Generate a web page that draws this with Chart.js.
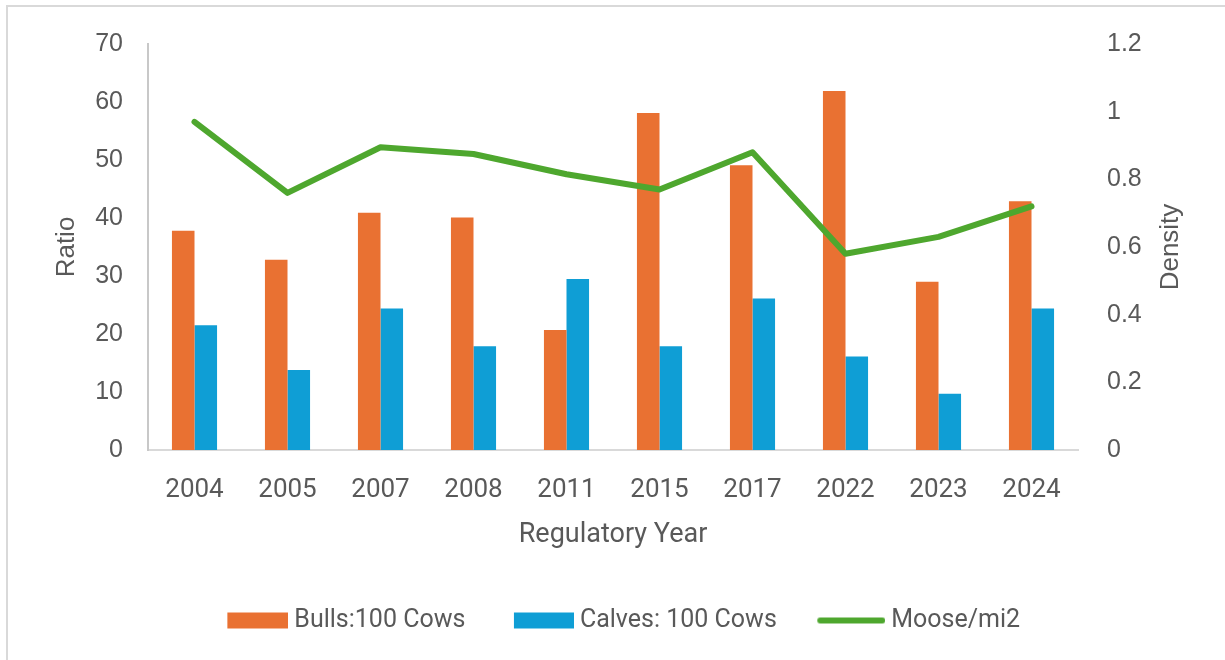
<!DOCTYPE html>
<html>
<head>
<meta charset="utf-8">
<title>Moose Composition and Density by Regulatory Year</title>
<script src="https://cdn.jsdelivr.net/npm/chart.js@4.4.1/dist/chart.umd.min.js"></script>
<style>
  html, body { margin: 0; padding: 0; background: #ffffff; }
  #wrap { position: relative; width: 1225px; height: 660px; overflow: hidden; }
  #frame { position: absolute; left: 6px; top: 5px; width: 1260px; height: 700px;
           border-left: 2px solid #d9d9d9; border-top: 2px solid #d9d9d9; }
  #c { position: absolute; left: 0; top: 0; }
</style>
</head>
<body>
<div id="wrap">
  <div id="frame"></div>
  <canvas id="c" width="1225" height="660"></canvas>
</div>
<script>
// Survey years and results
const years = ['2004', '2005', '2007', '2008', '2011', '2015', '2017', '2022', '2023', '2024'];
const bulls = [37.8, 32.8, 40.9, 40.1, 20.7, 58.1, 49.1, 61.9, 29.0, 42.9];
const calves = [21.5, 13.8, 24.4, 17.9, 29.5, 17.9, 26.1, 16.1, 9.7, 24.4];
const density = [0.97, 0.76, 0.895, 0.875, 0.815, 0.77, 0.88, 0.58, 0.63, 0.72];

// Axis tick labels
const densityTicks = ['0', '0.2', '0.4', '0.6', '0.8', '1', '1.2'];

const seriesNames = ['Bulls:100 Cows', 'Calves: 100 Cows', 'Moose/mi2'];
const ORANGE = '#E97132';
const BLUE = '#0F9ED5';
const GREEN = '#4EA72E';
const TEXT = '#595959';

// Legend swatches: all the same canvas width so the text starts at the same offset
const SW_W = 70, SW_H = 18;
function swatch(kind, color, w) {
  const cv = document.createElement('canvas');
  cv.width = SW_W; cv.height = SW_H;
  const g = cv.getContext('2d');
  if (kind === 'rect') {
    g.fillStyle = color;
    g.fillRect(SW_W - w, 1, w, 16);
  } else {
    g.strokeStyle = color;
    g.lineWidth = 6;
    g.lineCap = 'round';
    g.beginPath();
    g.moveTo(SW_W - w + 3, SW_H / 2);
    g.lineTo(SW_W - 3, SW_H / 2);
    g.stroke();
  }
  return cv;
}
const swatches = [swatch('rect', ORANGE, 61), swatch('rect', BLUE, 60), swatch('line', GREEN, 68)];
const swatchColors = [ORANGE, BLUE, GREEN];

const LEFT_PAD = 20;

// Axis titles drawn with the plugin so the right-hand title reads bottom-to-top
const axisTitles = {
  id: 'axisTitles',
  afterDraw(chart) {
    const { ctx, chartArea, scales } = chart;
    const midY = (chartArea.top + chartArea.bottom) / 2;
    ctx.save();
    ctx.fillStyle = TEXT;
    ctx.textAlign = 'center';
    ctx.textBaseline = 'middle';
    ctx.font = '26px "Liberation Sans", Arial, sans-serif';

    ctx.save();
    ctx.translate(scales.y.right - 81, midY);
    ctx.rotate(-Math.PI / 2);
    ctx.fillText('Ratio', 0, 0);
    ctx.restore();

    ctx.save();
    ctx.translate(scales.y1.left + 93, midY);
    ctx.rotate(-Math.PI / 2);
    ctx.fillText('Density', 0, 0);
    ctx.restore();

    ctx.font = '27px Roboto, "Noto Sans", sans-serif';
    ctx.fillText('Regulatory Year', (chartArea.left + chartArea.right) / 2, scales.x.top + 85);
    ctx.restore();
  }
};

new Chart(document.getElementById('c'), {
  type: 'bar',
  data: {
    labels: years,
    datasets: [
      { type: 'bar', label: seriesNames[0], data: bulls, backgroundColor: ORANGE, yAxisID: 'y', order: 2 },
      { type: 'bar', label: seriesNames[1], data: calves, backgroundColor: BLUE, yAxisID: 'y', order: 2 },
      { type: 'line', label: seriesNames[2], data: density, borderColor: GREEN, backgroundColor: GREEN,
        borderWidth: 6, borderJoinStyle: 'round', borderCapStyle: 'round', tension: 0,
        pointRadius: 0, pointHoverRadius: 0, fill: false, yAxisID: 'y1', order: 1 }
    ]
  },
  options: {
    responsive: false,
    animation: false,
    devicePixelRatio: 1,
    layout: { padding: { top: 40, left: LEFT_PAD, right: 0, bottom: 17 } },
    datasets: { bar: { categoryPercentage: 0.485, barPercentage: 1.0 } },
    scales: {
      x: {
        grid: { display: false, drawTicks: false },
        border: { display: true, color: '#d9d9d9', width: 2 },
        ticks: { color: TEXT, padding: 25, font: { family: 'Roboto, "Noto Sans", sans-serif', size: 26 } },
        afterFit(scale) { scale.height = 113; }
      },
      y: {
        position: 'left',
        min: 0, max: 70,
        grid: { display: false, drawTicks: false },
        border: { display: true, color: '#c8c8c8', width: 2 },
        ticks: { stepSize: 10, color: TEXT, padding: 25, font: { family: '"Liberation Sans", Arial, sans-serif', size: 25 } },
        afterFit(scale) { scale.width = 148 - LEFT_PAD; }
      },
      y1: {
        position: 'right',
        min: 0, max: 1.2,
        grid: { display: false, drawOnChartArea: false, drawTicks: false },
        border: { display: false },
        ticks: {
          stepSize: 0.2, color: TEXT, padding: 29,
          font: { family: '"Liberation Sans", Arial, sans-serif', size: 25 },
          callback: (v, i) => densityTicks[i]
        },
        afterFit(scale) { scale.width = 147; }
      }
    },
    plugins: {
      tooltip: { enabled: false },
      legend: {
        position: 'bottom',
        labels: {
          usePointStyle: true,
          pointStyleWidth: 57,
          padding: 45,
          color: TEXT,
          font: { family: 'Roboto, "Noto Sans", sans-serif', size: 25 },
          generateLabels: () => seriesNames.map((name, i) => ({
            text: name,
            pointStyle: swatches[i],
            fillStyle: swatchColors[i],
            strokeStyle: swatchColors[i],
            lineWidth: 0,
            hidden: false,
            datasetIndex: i,
            fontColor: TEXT
          }))
        }
      }
    }
  },
  plugins: [axisTitles]
});
</script>
</body>
</html>
